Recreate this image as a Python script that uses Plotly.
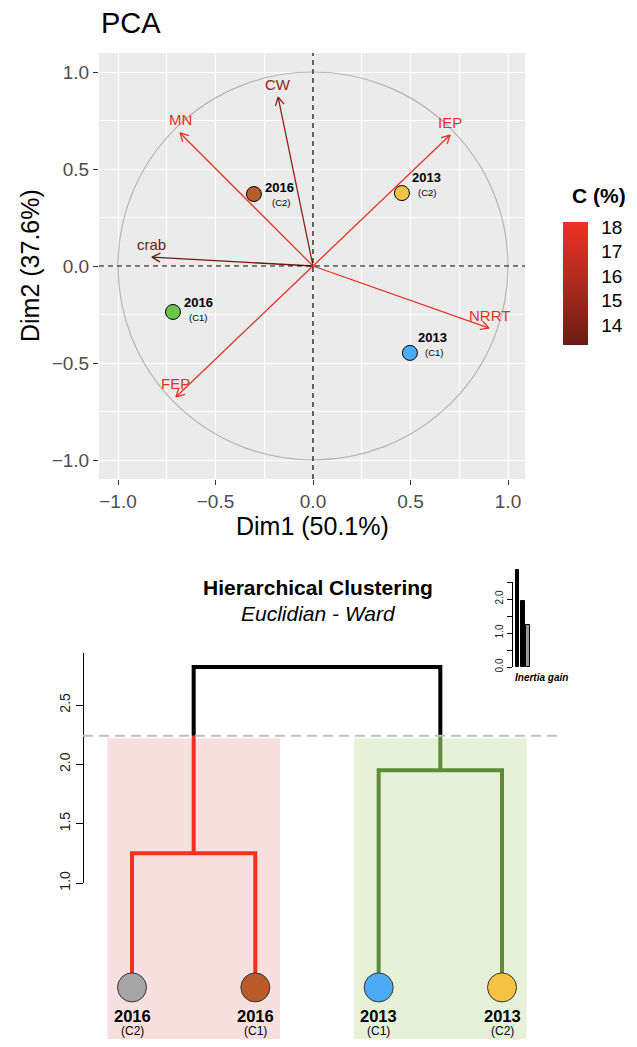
import math
import plotly.graph_objects as go
from plotly.colors import sample_colorscale

# page is shown with an 8px body margin; figure sized to fit the window
OFF = 8
W, H = 637 - 2 * OFF, 1047 - 2 * OFF
FONT = "Liberation Sans"

# ---------------- PCA data ----------------
var_names = ["MN", "CW", "IEP", "crab", "NRRT", "FEP"]
var_dim1 = [-0.682, -0.179, 0.703, -0.826, 0.903, -0.703]
var_dim2 = [0.686, 0.871, 0.675, 0.046, -0.320, -0.675]
var_c = [17.9, 14.6, 18.2, 13.2, 18.0, 17.8]

ind_year = ["2016", "2013", "2016", "2013"]
ind_cycle = ["(C2)", "(C2)", "(C1)", "(C1)"]
ind_dim1 = [-0.303, 0.456, -0.718, 0.497]
ind_dim2 = [0.371, 0.376, -0.237, -0.448]
ind_colors = ["#b85c2a", "#f5c242", "#6cc24a", "#4daaf5"]
# label offsets in px (style)
ind_year_dx = [26, 25, 26, 23]
ind_year_dy = [7, 16, 9, 15]
ind_cyc_dx = [27, 25, 25, 24]
ind_cyc_dy = [-8, 1, -6, 0]

axis_ticks = [-1.0, -0.5, 0.0, 0.5, 1.0]
axis_ticktext = ["\u22121.0", "\u22120.5", "0.0", "0.5", "1.0"]
minor_ticks = [-0.75, -0.25, 0.25, 0.75]
c_ticks = [14, 15, 16, 17, 18]

# ---------------- Dendrogram data ----------------
leaf_year = ["2016", "2016", "2013", "2013"]
leaf_cycle = ["(C2)", "(C1)", "(C1)", "(C2)"]
leaf_colors = ["#a6a6a6", "#b85c2a", "#4daaf5", "#f5c242"]
leaf_pos = [1, 2, 3, 4]
leaf_height = 0.12
merge_left_h = 1.25    # leaves 1 & 2
merge_right_h = 1.95   # leaves 3 & 4
merge_top_h = 2.82     # both clusters
cut_height = 2.24
cluster_colors = ["#ee3124", "#5e8a3a"]
cluster_fill = ["#f8e0de", "#e6f2d8"]
dend_ticks = [1.0, 1.5, 2.0, 2.5]
dend_ticktext = ["1.0", "1.5", "2.0", "2.5"]

# inertia gain inset
inertia_gain = [2.85, 1.94, 1.24]
inertia_colors = ["black", "black", "#9a9a9a"]
inertia_ticks = [0, 0.5, 1.0, 1.5, 2.0, 2.5]
inertia_ticktext = ["0.0", "", "1.0", "", "2.0", ""]


def pyf(px):
    """page pixel (from top) -> paper y fraction"""
    return 1 - (px - OFF) / H


def pxf(px):
    """page pixel (from left) -> paper x fraction"""
    return (px - OFF) / W


def lin_range(p0, v0, p1, v1, lo_px, hi_px):
    """axis range so that value v0 sits at pixel p0 and v1 at p1"""
    s = (v1 - v0) / (p1 - p0)
    return [v0 + (lo_px - p0) * s, v0 + (hi_px - p0) * s]


colorscale = [[0.0, "#6a1c13"], [0.5, "#ad2a1f"], [1.0, "#ee3124"]]
cmin, cmax = min(var_c), max(var_c)

fig = go.Figure()

# ---- PCA arrows ----
head_len = 0.048
head_ang = math.radians(28)
annotations = []
for name, x, y, c in zip(var_names, var_dim1, var_dim2, var_c):
    col = sample_colorscale(colorscale, [(c - cmin) / (cmax - cmin)])[0]
    th = math.atan2(y, x)
    a1x = x - head_len * math.cos(th - head_ang)
    a1y = y - head_len * math.sin(th - head_ang)
    a2x = x - head_len * math.cos(th + head_ang)
    a2y = y - head_len * math.sin(th + head_ang)
    fig.add_trace(go.Scatter(
        x=[0, x, a1x, None, x, a2x], y=[0, y, a1y, None, y, a2y],
        mode="lines", line=dict(color=col, width=1.3),
        xaxis="x", yaxis="y", showlegend=False, hoverinfo="skip"))
    annotations.append(dict(x=x, y=y, xref="x", yref="y", text=name,
                            showarrow=False, yshift=13, xanchor="center",
                            font=dict(family=FONT, size=15, color=col)))

# ---- PCA individuals ----
fig.add_trace(go.Scatter(
    x=ind_dim1, y=ind_dim2, mode="markers",
    marker=dict(size=15, color=ind_colors, line=dict(color="black", width=1)),
    xaxis="x", yaxis="y", showlegend=False))
for i in range(len(ind_dim1)):
    annotations.append(dict(x=ind_dim1[i], y=ind_dim2[i], xref="x", yref="y",
                            text="<b>%s</b>" % ind_year[i], showarrow=False,
                            xshift=ind_year_dx[i], yshift=ind_year_dy[i],
                            xanchor="center",
                            font=dict(family=FONT, size=13, color="black")))
    annotations.append(dict(x=ind_dim1[i], y=ind_dim2[i], xref="x", yref="y",
                            text=ind_cycle[i], showarrow=False,
                            xshift=ind_cyc_dx[i], yshift=ind_cyc_dy[i],
                            xanchor="center",
                            font=dict(family=FONT, size=9.5, color="black")))

# ---- colorbar carrier ----
fig.add_trace(go.Scatter(
    x=var_dim1, y=var_dim2, mode="markers",
    marker=dict(size=1, opacity=0, color=var_c, colorscale=colorscale,
                cmin=cmin, cmax=cmax, showscale=True,
                colorbar=dict(
                    x=pxf(563), xanchor="left", y=pyf(222), yanchor="top",
                    len=123, lenmode="pixels", thickness=25,
                    thicknessmode="pixels", outlinewidth=0,
                    xpad=0, ypad=0,
                    tickvals=c_ticks, ticks="outside", ticklen=10,
                    tickcolor="rgba(0,0,0,0)",
                    tickfont=dict(family=FONT, size=19, color="black"))),
    xaxis="x", yaxis="y", showlegend=False, hoverinfo="skip"))

# ---- Dendrogram ----
lx, rx = (leaf_pos[0] + leaf_pos[1]) / 2, (leaf_pos[2] + leaf_pos[3]) / 2
segs = [
    ([leaf_pos[0], leaf_pos[0], leaf_pos[1], leaf_pos[1]],
     [leaf_height, merge_left_h, merge_left_h, leaf_height], cluster_colors[0]),
    ([lx, lx], [merge_left_h, cut_height], cluster_colors[0]),
    ([leaf_pos[2], leaf_pos[2], leaf_pos[3], leaf_pos[3]],
     [leaf_height, merge_right_h, merge_right_h, leaf_height], cluster_colors[1]),
    ([rx, rx], [merge_right_h, cut_height], cluster_colors[1]),
    ([lx, lx, rx, rx], [cut_height, merge_top_h, merge_top_h, cut_height], "black"),
]
for xs, ys, col in segs:
    fig.add_trace(go.Scatter(x=xs, y=ys, mode="lines",
                             line=dict(color=col, width=4),
                             xaxis="x2", yaxis="y2", showlegend=False,
                             hoverinfo="skip"))
fig.add_trace(go.Scatter(
    x=leaf_pos, y=[leaf_height] * 4, mode="markers",
    marker=dict(size=29, color=leaf_colors, line=dict(color="#333333", width=1)),
    xaxis="x2", yaxis="y2", showlegend=False))
for i in range(4):
    annotations.append(dict(x=leaf_pos[i], y=leaf_height, xref="x2", yref="y2",
                            text="<b>%s</b>" % leaf_year[i], showarrow=False,
                            yshift=-29, xanchor="center",
                            font=dict(family=FONT, size=16.5, color="black")))
    annotations.append(dict(x=leaf_pos[i], y=leaf_height, xref="x2", yref="y2",
                            text=leaf_cycle[i], showarrow=False, yshift=-44,
                            xanchor="center",
                            font=dict(family=FONT, size=12, color="black")))

# dummy trace for displayed dendrogram height axis
fig.add_trace(go.Scatter(x=[None], y=[None], xaxis="x4", yaxis="y3",
                         showlegend=False, hoverinfo="skip"))

# ---- inertia inset ----
fig.add_trace(go.Bar(x=[1, 2, 3], y=inertia_gain, width=0.68,
                     marker=dict(color=inertia_colors,
                                 line=dict(color="black", width=1)),
                     xaxis="x3", yaxis="y5", showlegend=False))
fig.add_trace(go.Scatter(x=[None], y=[None], xaxis="x5", yaxis="y4",
                         showlegend=False, hoverinfo="skip"))

# ---- shapes ----
shapes = [
    dict(type="rect", xref="x domain", yref="y domain", x0=0, x1=1, y0=0, y1=1,
         fillcolor="#ebebeb", line=dict(width=0), layer="below"),
    dict(type="circle", xref="x", yref="y", x0=-1, y0=-1, x1=1, y1=1,
         line=dict(color="#b5b5b5", width=1.2), layer="above"),
    dict(type="line", xref="x", yref="y domain", x0=0, x1=0, y0=0, y1=1,
         line=dict(color="black", width=1.2, dash="5px,4px"), layer="above"),
    dict(type="line", xref="x domain", yref="y", x0=0, x1=1, y0=0, y1=0,
         line=dict(color="black", width=1.2, dash="5px,4px"), layer="above"),
    dict(type="rect", xref="x2", yref="y2", x0=leaf_pos[0] - 0.2,
         x1=leaf_pos[1] + 0.2, y0=-0.6, y1=cut_height - 0.02,
         fillcolor=cluster_fill[0], line=dict(width=0), layer="below"),
    dict(type="rect", xref="x2", yref="y2", x0=leaf_pos[2] - 0.2,
         x1=leaf_pos[3] + 0.2, y0=-0.6, y1=cut_height - 0.02,
         fillcolor=cluster_fill[1], line=dict(width=0), layer="below"),
    dict(type="line", xref="paper", yref="y2", x0=pxf(83), x1=pxf(557),
         y0=cut_height, y1=cut_height,
         line=dict(color="#bdbdbd", width=2, dash="10px,6px"), layer="above"),
]

# ---- titles ----
annotations += [
    dict(x=pxf(99), y=pyf(23), xref="paper", yref="paper", text="PCA",
         showarrow=False, xanchor="left", yanchor="middle",
         font=dict(family=FONT, size=29, color="black")),
    dict(x=pxf(312), y=pyf(526), xref="paper", yref="paper",
         text="Dim1 (50.1%)", showarrow=False, xanchor="center",
         yanchor="middle", font=dict(family=FONT, size=25, color="black")),
    dict(x=pxf(30), y=pyf(266), xref="paper", yref="paper",
         text="Dim2 (37.6%)", showarrow=False, textangle=-90,
         xanchor="center", yanchor="middle",
         font=dict(family=FONT, size=25, color="black")),
    dict(x=pxf(570), y=pyf(196), xref="paper", yref="paper",
         text="<b>C (%)</b>", showarrow=False, xanchor="left",
         yanchor="middle", font=dict(family=FONT, size=21, color="black")),
    dict(x=pxf(318), y=pyf(587), xref="paper", yref="paper",
         text="<b>Hierarchical Clustering</b>", showarrow=False,
         xanchor="center", yanchor="middle",
         font=dict(family=FONT, size=21, color="black")),
    dict(x=pxf(318), y=pyf(613), xref="paper", yref="paper",
         text="<i>Euclidian - Ward</i>", showarrow=False,
         xanchor="center", yanchor="middle",
         font=dict(family=FONT, size=21, color="black")),
    dict(x=pxf(541), y=pyf(677), xref="paper", yref="paper",
         text="<b><i>Inertia gain</i></b>", showarrow=False,
         xanchor="center", yanchor="middle",
         font=dict(family=FONT, size=10, color="black")),
]

tickfont = dict(family=FONT, size=19, color="#4d4d4d")
pca_axis = dict(tickvals=axis_ticks, ticktext=axis_ticktext, ticks="outside",
                ticklen=5, tickwidth=1.3, tickcolor="#333333",
                showgrid=True, gridcolor="white", gridwidth=1.4,
                zeroline=False, showline=False, tickfont=tickfont,
                automargin=False,
                minor=dict(tickvals=minor_ticks, showgrid=True,
                           gridcolor="white", gridwidth=0.7, ticks=""))

# pixel anchors (page px) -> axis ranges
pca_x_range = lin_range(118, -1.0, 508, 1.0, 99, 525)
pca_y_range = lin_range(460, -1.0, 72, 1.0, 479, 53)
dend_x_range = lin_range(132, 1, 502, 4, OFF, OFF + W)
dend_y_range = lin_range(883, 1.0, 705, 2.5, OFF + H, 560)
dend_axis_range = lin_range(883, 1.0, 705, 2.5, 883, 653)
ins_x_range = lin_range(517.5, 1, 528, 3, 500, 545)
ins_bar_range = lin_range(667, 0, 582, 2.5, 667, 560)

fig.update_layout(
    width=W, height=H,
    margin=dict(l=0, r=0, t=0, b=0, autoexpand=False),
    paper_bgcolor="white", plot_bgcolor="rgba(0,0,0,0)",
    showlegend=False,
    font=dict(family=FONT),
    xaxis=dict(domain=[pxf(99), pxf(525)], range=pca_x_range,
               anchor="y", **pca_axis),
    yaxis=dict(domain=[pyf(479), pyf(53)], range=pca_y_range,
               anchor="x", **pca_axis),
    xaxis2=dict(domain=[0, 1], range=dend_x_range, visible=False,
                anchor="y2", automargin=False),
    yaxis2=dict(domain=[0, pyf(560)], range=dend_y_range, visible=False,
                anchor="x2", automargin=False),
    xaxis4=dict(domain=[0, 1], range=[0, 1], visible=False, anchor="y3",
                automargin=False),
    yaxis3=dict(domain=[pyf(883), pyf(653)], range=dend_axis_range,
                anchor="free", position=pxf(83), side="left",
                tickvals=dend_ticks, ticktext=dend_ticktext, ticks="outside",
                ticklen=7, tickcolor="black", showline=True, linecolor="black",
                linewidth=1, showgrid=False, zeroline=False, tickangle=-90,
                automargin=False,
                tickfont=dict(family=FONT, size=14, color="#222222")),
    xaxis3=dict(domain=[pxf(500), pxf(545)], range=ins_x_range,
                visible=False, anchor="y5", automargin=False),
    yaxis5=dict(domain=[pyf(667), pyf(560)], range=ins_bar_range,
                visible=False, anchor="x3", automargin=False),
    xaxis5=dict(domain=[pxf(500), pxf(545)], range=[0, 1], visible=False,
                anchor="y4", automargin=False),
    yaxis4=dict(domain=[pyf(667), pyf(582)], range=[0, 2.5],
                anchor="free", position=pxf(512), side="left",
                tickvals=inertia_ticks, ticktext=inertia_ticktext,
                ticks="outside", ticklen=5, tickcolor="black",
                showline=True, linecolor="black", linewidth=1,
                showgrid=False, zeroline=False, tickangle=-90,
                automargin=False,
                tickfont=dict(family=FONT, size=10, color="#222222")),
    shapes=shapes,
    annotations=annotations,
    bargap=0,
)

fig.write_html("out.html")
